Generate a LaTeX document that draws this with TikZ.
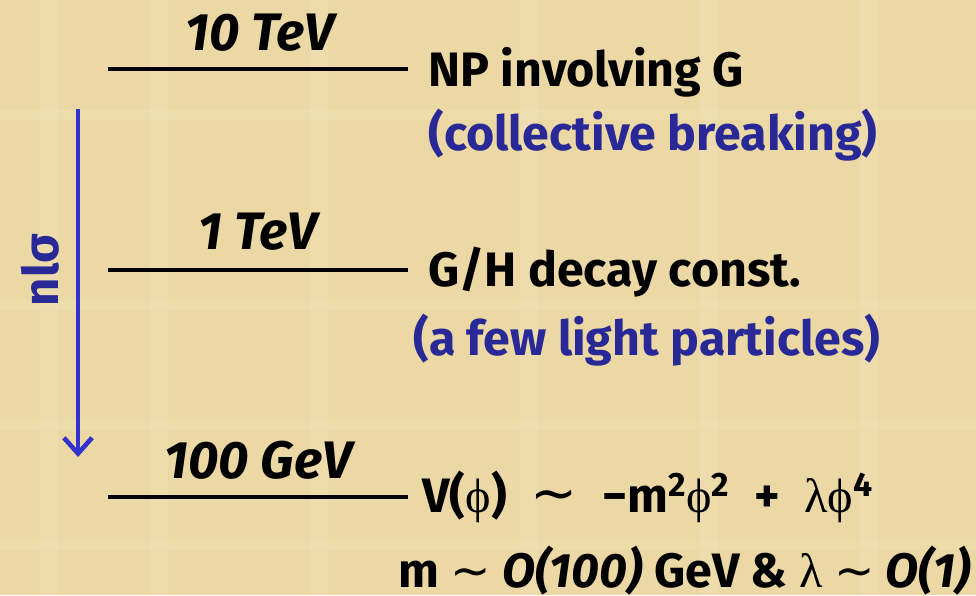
\documentclass[tikz,border=0pt]{standalone}
\usepackage{fontspec}
\setmainfont{Fira Sans}[UprightFont=* Bold, ItalicFont=* Bold Italic, BoldFont=* Bold]
\newfontfamily\grk{Liberation Serif}
\newfontfamily\sym{DejaVu Sans}
\newcommand{\ph}{{\grk ϕ}}
\newcommand{\lam}{{\grk λ}}
\newcommand{\tl}{{\sym\mdseries\fontsize{32}{32}\selectfont ∼}}
\newcommand{\tls}{{\sym\mdseries ∼}}
\usetikzlibrary{arrows.meta}
\definecolor{parch}{RGB}{236,216,164}
\definecolor{parchlight}{RGB}{242,226,182}
\definecolor{navy}{RGB}{40,40,150}
\definecolor{arrowblue}{RGB}{50,50,205}
\begin{document}
\begin{tikzpicture}[x=0.02cm,y=-0.02cm,
  level/.style={line width=2.4pt,black},
  energy/.style={font=\fontsize{30}{34}\selectfont\itshape,anchor=center,inner sep=0pt},
  desc/.style={font=\fontsize{27.5}{32}\selectfont,anchor=west,inner sep=0pt},
  note/.style={desc,text=navy}]
\fill[parch] (0,0) rectangle (976,595);
\foreach \x in {40,150,310,520,700,860} {\fill[parchlight,opacity=0.45] (\x,0) rectangle (\x+18,595);}
\foreach \y in {110,300,420,540} {\fill[parchlight,opacity=0.35] (0,\y) rectangle (976,\y+10);}
\useasboundingbox (0,0) rectangle (976,595);
% levels
\coordinate (l1a) at (108,69); \coordinate (l1b) at (408,69);
\coordinate (l2a) at (108,270); \coordinate (l2b) at (408,270);
\coordinate (l3a) at (108,497); \coordinate (l3b) at (408,497);
\draw[level] (l1a) -- (l1b);
\draw[level] (l2a) -- (l2b);
\draw[level] (l3a) -- (l3b);
\node[energy] (e1) at (260,33) {10 TeV};
\node[energy] (e2) at (258,232) {1 TeV};
\node[energy] (e3) at (258,460) {100 GeV};
\node[desc] (d1) at (428,72) {NP involving G};
\node[note] (n1) at (428,135) {(collective breaking)};
\node[desc] (d2) at (428,272) {G/H decay const.};
\node[note] (n2) at (413,340) {(a few light particles)};
\node[desc] (d3) at (422,497) {V(\ph)\enspace\tl\enspace −m\textsuperscript{2}\ph\textsuperscript{2}\enspace+\enspace\lam\ph\textsuperscript{4}};
\node[desc] (d4) at (398,571) {m \tls{} \textit{O(100)} GeV \& \lam{} \tls{} \textit{O(1)}};
% arrow
\coordinate (at) at (78,109);
\coordinate (ab) at (78,457);
\draw[arrowblue,line width=2.6pt,-{Straight Barb[length=9pt,width=16pt,line width=2.6pt]}] (at) -- (ab);
\node[font=\fontsize{28}{32}\selectfont,text=navy,rotate=90,inner sep=0pt] (nl) at (40,270) {nlσ};
\end{tikzpicture}
\end{document}
